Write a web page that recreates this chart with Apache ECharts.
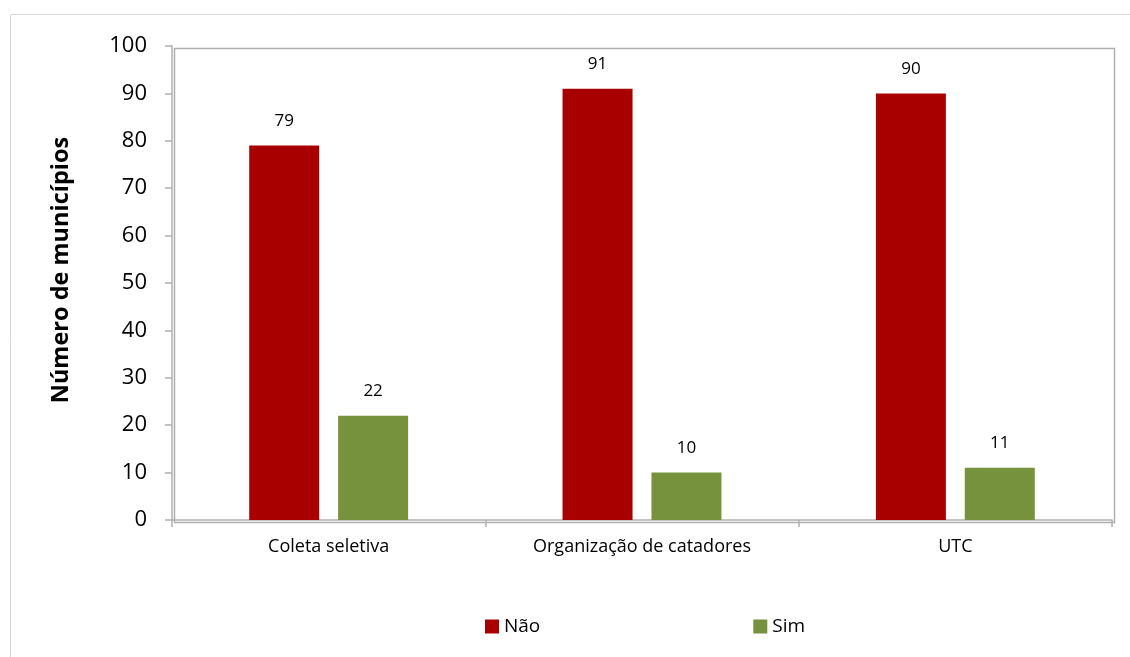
<!DOCTYPE html>
<html><head><meta charset="utf-8">
<script src="https://cdn.jsdelivr.net/npm/echarts@6/dist/echarts.min.js"></script>
<style>html,body{margin:0;padding:0;background:#fff}#c{width:1130px;height:657px}</style>
</head><body><div id="c"></div>
<script>
const categories = ['Coleta seletiva', 'Organização de catadores', 'UTC'];
const naoValues = [79, 91, 90];
const simValues = [22, 10, 11];
const yTicks = [0, 10, 20, 30, 40, 50, 60, 70, 80, 90, 100];
const yAxisTitle = 'Número de municípios';

const font = 'Open Sans, Noto Sans, sans-serif';
const chart = echarts.init(document.getElementById('c'));
chart.setOption({
  animation: false,
  textStyle: { fontFamily: font },
  graphic: [{
    type: 'rect', left: 8, top: 12, silent: true,
    shape: { width: 1140, height: 660 },
    style: { fill: 'none', stroke: '#d9d9d9', lineWidth: 1 }
  }, {
    type: 'rect', left: 172, top: 46, silent: true,
    shape: { width: 940, height: 474 },
    style: { fill: 'none', stroke: '#b0b0b0', lineWidth: 1.5 }
  }, {
    type: 'text', x: 61, y: 270, rotation: Math.PI / 2, silent: true,
    style: {
      text: yAxisTitle, fontSize: 23.5, fontWeight: 'bold', fill: '#000',
      fontFamily: font, align: 'center', verticalAlign: 'middle'
    }
  }],
  grid: { left: 172, right: 18, top: 46, bottom: 137, containLabel: false },
  legend: {
    left: 480, top: 612, itemWidth: 14, itemHeight: 14, itemGap: 213,
    icon: 'rect',
    textStyle: { fontSize: 19, color: '#000', fontFamily: font },
    data: ['Não', 'Sim']
  },
  xAxis: {
    type: 'category', data: categories,
    axisLine: { lineStyle: { color: '#b0b0b0', width: 1.5 } },
    axisTick: { show: true, length: 7, alignWithLabel: false, lineStyle: { color: '#b0b0b0', width: 1.5 } },
    axisLabel: { fontSize: 18, color: '#000', margin: 18, fontFamily: font },
    splitLine: { show: false }
  },
  yAxis: {
    type: 'value', min: yTicks[0], max: yTicks[yTicks.length - 1], interval: 10,
    axisLine: { show: true, lineStyle: { color: '#b0b0b0', width: 1.5 } },
    axisTick: { show: true, length: 7, lineStyle: { color: '#b0b0b0', width: 1.5 } },
    axisLabel: { fontSize: 22, color: '#000', margin: 25, fontFamily: font },
    splitLine: { show: false }
  },
  series: [{
    name: 'Não', type: 'bar', data: naoValues, barWidth: 70, barGap: '27%',
    itemStyle: { color: '#A80000' },
    label: { show: true, position: 'top', distance: 16, fontSize: 17, color: '#000', fontFamily: font }
  }, {
    name: 'Sim', type: 'bar', data: simValues, barWidth: 70,
    itemStyle: { color: '#76923C' },
    label: { show: true, position: 'top', distance: 16, fontSize: 17, color: '#000', fontFamily: font }
  }]
});
</script></body></html>
